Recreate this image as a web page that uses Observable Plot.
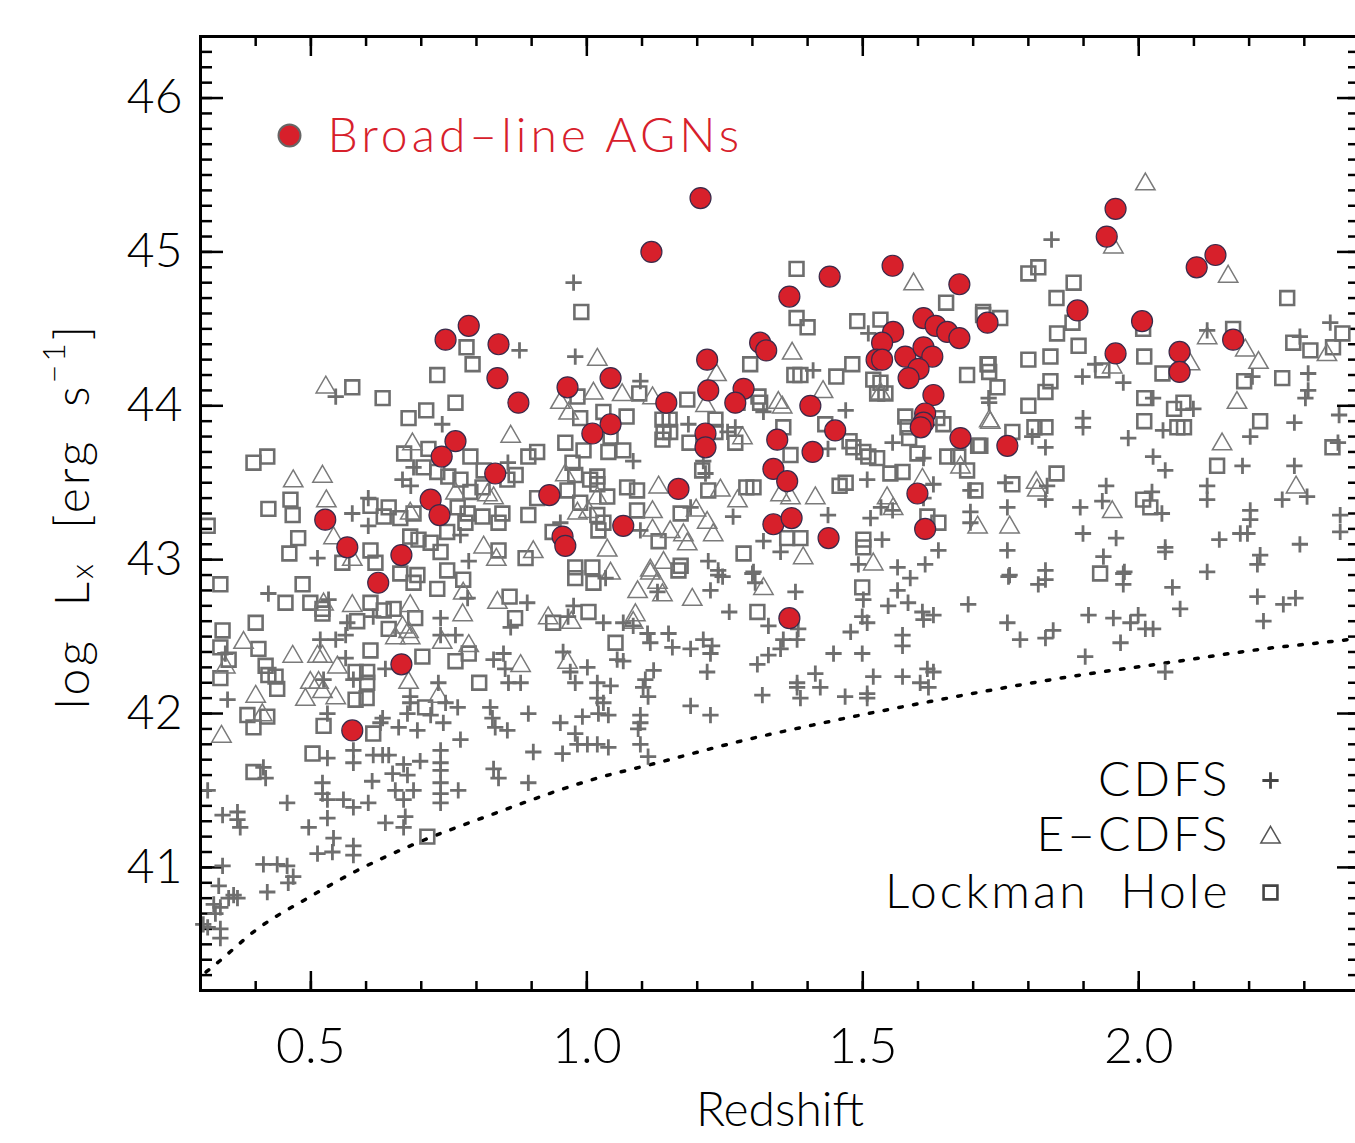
<!DOCTYPE html>
<html>
<head>
<meta charset="utf-8">
<script src="https://cdn.jsdelivr.net/npm/d3@7"></script>
<script src="https://cdn.jsdelivr.net/npm/@observablehq/plot@0.6"></script>
<style>
  html, body { margin: 0; padding: 0; background: #fff; overflow: hidden; }
  #chart svg { display: block; max-width: none !important; }
</style>
</head>
<body>
<div id="chart"></div>
<script>
// ---------------- data (redshift, log Lx) ----------------
const broadLine = [
  [1.206,45.35],[1.117,45.00],[1.958,45.28],[1.942,45.10],[2.105,44.90],[2.139,44.98],
  [1.554,44.91],[1.440,44.84],[1.367,44.71],[1.675,44.79],[1.889,44.62],[1.726,44.54],
  [2.006,44.55],[0.786,44.52],[0.744,44.43],[0.840,44.40],[1.314,44.41],[1.325,44.36],
  [1.218,44.30],[1.958,44.34],[2.074,44.35],[2.074,44.22],[2.171,44.43],[0.838,44.18],
  [1.043,44.18],[0.965,44.12],[1.220,44.10],[1.284,44.11],[1.269,44.02],[0.876,44.02],
  [1.144,44.02],[1.405,44.00],[1.043,43.88],[1.010,43.82],[1.215,43.82],[1.215,43.73],
  [1.450,43.84],[1.345,43.78],[1.409,43.70],[1.677,43.79],[1.762,43.74],[0.762,43.77],
  [0.737,43.67],[0.834,43.56],[1.338,43.59],[1.363,43.51],[1.166,43.46],[0.932,43.42],
  [0.717,43.39],[0.733,43.29],[0.526,43.26],[1.338,43.23],[1.371,43.27],[1.066,43.22],
  [0.956,43.15],[0.961,43.09],[1.438,43.14],[0.566,43.08],[0.664,43.03],[0.622,42.85],
  [1.367,42.62],[0.664,42.32],[0.575,41.89],
  [1.610,44.57],[1.632,44.52],[1.653,44.48],[1.675,44.44],[1.555,44.48],[1.535,44.41],
  [1.525,44.30],[1.535,44.30],[1.577,44.32],[1.610,44.38],[1.626,44.32],[1.601,44.24],
  [1.583,44.18],[1.628,44.07],[1.613,43.95],[1.610,43.89],[1.605,43.86],[1.599,43.43],
  [1.613,43.20]
];

const cdfs = [
  [0.976,44.80],[0.878,44.36],[0.979,44.32],[0.545,44.06],[0.738,43.88],[0.686,43.60],[0.666,43.52],
  [0.681,43.48],[0.857,43.63],[0.575,43.30],[0.604,43.22],[0.604,43.40],[0.512,43.01],[0.771,43.16],
  [0.786,42.99],[0.952,43.24],
  [1.097,44.16],[1.084,43.64],[1.184,43.88],[1.269,43.86],[1.255,43.83],[1.320,43.96],[1.410,44.23],
  [1.510,44.47],[1.469,43.97],[1.554,43.76],[1.437,43.72],[1.508,43.52],[1.610,43.66],[1.628,43.49],
  [1.610,43.40],[1.533,43.34],[1.554,43.32],[1.514,43.27],[1.437,43.29],[1.535,43.13],[1.492,42.97],
  [1.563,42.95],[1.613,42.97],[1.637,43.06],[1.695,43.45],[1.695,43.24],[1.695,43.31],[1.728,44.05],
  [1.265,43.28],[1.320,43.12],[1.351,43.05],[1.220,42.99],[1.238,42.93],[1.302,42.92],[1.188,43.34],
  [1.211,43.64],[1.215,43.56],[1.097,43.19],[1.034,42.88],
  [1.842,45.08],[2.347,44.54],[2.292,44.45],[2.124,44.49],[1.921,44.27],[1.898,44.19],[1.972,44.15],
  [2.026,44.05],[2.099,43.98],[2.307,44.21],[2.307,44.10],[2.302,44.05],[2.206,44.19],[1.729,44.02],
  [1.899,43.92],[1.899,43.86],[1.807,43.80],[1.831,43.73],[2.044,43.84],[1.981,43.79],[2.202,43.80],
  [2.282,43.89],[2.363,43.94],[2.361,43.76],[2.026,43.67],[2.048,43.58],[2.188,43.61],[2.282,43.61],
  [1.758,43.50],[1.834,43.48],[1.941,43.48],[1.831,43.39],[1.762,43.34],[1.894,43.34],[1.934,43.38],
  [2.024,43.44],[2.042,43.30],[2.124,43.48],[2.124,43.39],[2.202,43.32],[2.202,43.26],[2.260,43.39],
  [2.305,43.41],[2.365,43.29],[2.365,43.18],[1.899,43.17],[1.959,43.14],[2.048,43.08],[2.048,43.05],
  [2.146,43.13],[2.184,43.17],[2.197,43.17],[2.220,43.03],[2.215,42.97],[2.292,43.10],[1.762,43.06],
  [1.936,43.02],[1.831,42.93],[1.766,42.90],[1.974,42.92],[2.124,42.92],
  [0.423,42.78],[0.532,42.74],[0.613,42.63],[0.566,42.59],[0.517,42.48],[0.545,42.48],[0.563,42.51],
  [0.563,42.36],[0.735,42.62],[0.735,42.51],[0.762,42.51],[0.784,42.75],[0.892,42.72],[0.976,42.70],
  [0.966,42.63],[0.862,42.56],[0.349,42.09],[0.345,42.39],[0.523,42.22],[0.577,42.22],[0.530,42.00],
  [0.635,42.29],[0.731,42.20],[0.744,42.07],[0.766,42.04],[0.680,42.11],[0.680,42.07],[0.717,41.99],
  [0.675,42.00],[0.626,41.94],[0.659,41.91],[0.693,41.89],[0.740,41.94],[0.735,41.76],[0.735,41.68],
  [0.735,41.63],[0.735,41.55],[0.735,41.48],[0.735,41.42],[0.771,41.83],[0.767,41.50],[0.698,41.69],
  [0.668,41.67],[0.675,41.60],[0.648,41.61],[0.653,41.50],[0.668,41.44],[0.671,41.33],[0.668,41.26],
  [0.635,41.29],[0.686,41.50],[0.604,41.42],[0.577,41.39],[0.559,41.44],[0.530,41.44],[0.521,41.55],
  [0.521,41.48],[0.530,41.32],[0.541,41.19],[0.539,41.10],[0.512,41.09],[0.577,41.14],[0.577,41.08],
  [0.496,41.26],[0.457,41.42],[0.414,41.65],[0.418,41.58],[0.611,41.56],[0.577,41.76],[0.577,41.68],
  [0.530,41.71],[0.630,41.73],[0.641,41.73],[0.613,41.73],[0.630,41.97],[0.831,42.35],[0.849,42.39],
  [0.852,42.29],[0.858,42.20],[0.880,42.20],[0.825,42.04],[0.829,41.97],[0.834,41.91],[0.856,41.89],
  [0.831,41.64],[0.840,41.58],[0.894,42.00],[0.894,41.55],[0.903,41.75],[0.956,41.74],[0.952,41.94],
  [0.957,42.40],[0.970,42.27],[0.979,42.20],[0.992,41.98],[0.979,41.87],[0.983,41.80],[1.001,41.80],
  [1.019,41.80],[1.001,42.30],[1.019,42.20],[1.019,42.10],[1.021,42.00],[0.340,41.34],[0.367,41.36],
  [0.367,41.31],[0.372,41.26],[0.313,41.50],[0.340,41.01],[0.414,41.02],[0.439,41.02],[0.457,41.01],
  [0.468,40.94],[0.459,40.90],[0.421,40.84],[0.360,40.82],[0.351,40.80],[0.367,40.80],[0.333,40.88],
  [0.324,40.76],[0.336,40.74],[0.327,40.70],[0.313,40.61],[0.336,40.60],[0.336,40.54],[0.305,40.63],
  [1.378,42.79],[1.224,42.80],[1.238,42.90],[1.300,42.91],[1.305,42.85],[1.128,42.79],[1.258,42.66],
  [1.329,42.57],[1.383,42.55],[1.381,42.48],[1.356,42.48],[1.351,42.42],[1.329,42.38],[1.309,42.32],
  [1.501,42.74],[1.499,42.63],[1.508,42.59],[1.478,42.53],[1.447,42.39],[1.499,42.39],[1.546,42.70],
  [1.582,42.72],[1.563,42.80],[1.586,42.88],[1.608,42.66],[1.628,42.64],[1.610,42.61],[1.572,42.51],
  [1.572,42.44],[1.691,42.71],[1.381,42.20],[1.381,42.17],[1.387,42.10],[1.414,42.26],[1.423,42.17],
  [1.318,42.12],[1.468,42.11],[1.508,42.13],[1.508,42.10],[1.519,42.24],[1.572,42.24],[1.617,42.29],
  [1.628,42.27],[1.604,42.20],[1.619,42.17],[1.030,42.59],[1.066,42.59],[1.084,42.57],[1.110,42.52],
  [1.115,42.46],[1.148,42.52],[1.155,42.43],[1.188,42.42],[1.211,42.48],[1.227,42.44],[1.224,42.39],
  [1.218,42.27],[1.055,42.35],[1.066,42.34],[1.121,42.28],[1.043,42.18],[1.106,42.22],[1.102,42.17],
  [1.111,42.11],[1.030,42.07],[1.039,41.99],[1.097,41.99],[1.097,41.94],[1.093,41.90],[1.188,42.05],
  [1.224,41.99],[1.039,41.78],[1.097,41.80],[1.111,41.72],[1.246,42.89],
  [1.764,42.89],[1.818,42.84],[1.831,42.87],[1.972,42.91],[1.972,42.84],[2.061,42.82],[2.075,42.68],
  [1.909,42.64],[1.954,42.62],[1.985,42.59],[1.999,42.64],[2.012,42.55],[2.026,42.55],[1.967,42.46],
  [1.762,42.59],[1.785,42.48],[1.831,42.49],[1.845,42.54],[1.903,42.37],[2.048,42.27],[2.215,42.76],
  [2.226,42.60],[2.262,42.71],[2.284,42.75]
];

const ecdfs = [
  [0.527,44.12],[1.019,44.30],[1.012,44.08],[0.967,43.95],[0.862,43.80],[0.684,43.75],[0.468,43.51],
  [0.521,43.54],[0.528,43.38],[0.541,43.14],[0.762,43.43],[0.820,43.42],[0.831,43.40],[0.961,43.55],
  [0.983,43.30],[1.003,43.31],[1.019,43.40],[0.680,43.30],[0.813,43.08],[0.836,43.00],[0.903,43.05],
  [0.575,43.00],[0.952,44.02],
  [1.064,44.07],[1.119,44.05],[1.372,44.34],[1.235,44.20],[1.428,44.09],[1.347,44.02],[1.354,43.99],
  [1.215,44.00],[1.282,43.79],[1.130,43.47],[1.242,43.45],[1.273,43.38],[1.351,43.42],[1.369,43.40],
  [1.414,43.40],[1.198,43.32],[1.119,43.31],[1.218,43.24],[1.119,43.19],[1.151,43.18],[1.175,43.16],
  [1.229,43.16],[1.182,43.10],[1.037,43.06],[1.392,43.01],[1.519,42.97],[1.544,43.40],[1.555,43.33],
  [1.608,43.52],[1.677,43.60],[1.708,43.21],[1.731,43.89],[1.532,44.08],[1.139,42.98],[1.115,42.93],
  [1.592,44.79],
  [2.012,45.44],[1.954,45.03],[2.162,44.84],[2.124,44.44],[2.193,44.36],[2.217,44.28],[2.093,44.27],
  [1.952,44.25],[2.341,44.33],[2.178,44.02],[1.729,43.90],[2.151,43.75],[1.814,43.50],[1.816,43.45],
  [1.952,43.31],[1.766,43.21],[2.285,43.47],
  [0.575,42.70],[0.523,42.71],[0.680,42.70],[0.775,42.64],[0.666,42.56],[0.677,42.53],[0.653,42.49],
  [0.680,42.49],[0.738,42.46],[0.786,42.44],[0.776,42.78],[0.838,42.72],[0.930,42.62],[0.972,42.59],
  [0.378,42.46],[0.467,42.37],[0.512,42.37],[0.521,42.37],[0.548,42.30],[0.499,42.20],[0.514,42.20],
  [0.521,42.14],[0.490,42.09],[0.545,42.10],[0.400,42.11],[0.677,42.20],[0.345,42.30],[0.338,41.85],
  [0.412,41.99],[0.880,42.31],[0.965,42.33],[0.731,42.11],
  [1.092,42.79],[1.191,42.74],[1.320,42.81],[1.137,42.77],[1.128,42.85],[1.088,42.64],[1.084,42.59],
  [1.115,42.91],[1.043,42.91]
];

const lockman = [
  [0.990,44.61],[0.782,44.38],[0.793,44.27],[0.729,44.20],[0.575,44.12],[0.630,44.05],[0.762,44.02],
  [0.709,43.97],[0.677,43.92],[0.396,43.63],[0.421,43.67],[0.669,43.69],[0.713,43.72],[0.789,43.67],
  [0.894,43.67],[0.910,43.70],[0.961,43.76],[0.988,43.92],[0.983,44.06],[0.974,43.63],[0.979,43.55],
  [0.994,43.71],[0.704,43.60],[0.729,43.57],[0.749,43.54],[0.771,43.52],[0.813,43.58],[0.871,43.55],
  [0.856,43.52],[0.811,43.47],[0.789,43.44],[0.965,43.45],[0.910,43.40],[0.988,43.37],[1.006,43.52],
  [0.423,43.33],[0.463,43.39],[0.467,43.29],[0.477,43.14],[0.461,43.04],[0.608,43.35],[0.641,43.34],
  [0.632,43.28],[0.662,43.27],[0.686,43.30],[0.766,43.34],[0.784,43.30],[0.811,43.28],[0.780,43.24],
  [0.847,43.30],[0.840,43.24],[0.894,43.29],[0.938,43.18],[0.680,43.15],[0.695,43.13],[0.747,43.18],
  [0.717,43.11],[0.608,43.06],[0.617,42.98],[0.557,42.98],[0.840,43.06],[0.889,43.01],[0.979,42.95],
  [1.010,42.95],[0.313,43.22],[0.735,43.05],[0.662,42.91],[0.693,42.90],[0.747,42.93],
  [1.380,44.89],[1.380,44.57],[1.400,44.51],[1.490,44.55],[1.532,44.56],[1.651,44.67],[1.718,44.59],
  [1.296,44.27],[1.376,44.20],[1.387,44.20],[1.452,44.19],[1.481,44.27],[1.519,44.17],[1.532,44.15],
  [1.541,44.08],[1.526,44.08],[1.689,44.20],[1.726,44.27],[1.095,44.08],[1.030,43.96],[1.072,43.93],
  [1.043,43.80],[1.039,43.70],[1.066,43.71],[1.139,43.83],[1.137,43.91],[1.150,43.91],[1.151,43.83],
  [1.137,43.78],[1.182,44.04],[1.186,43.76],[1.233,43.91],[1.233,43.83],[1.311,44.06],[1.314,44.02],
  [1.273,44.02],[1.269,43.76],[1.356,43.86],[1.369,43.68],[1.432,43.88],[1.476,43.77],[1.483,43.73],
  [1.501,43.70],[1.510,43.67],[1.526,43.66],[1.550,43.56],[1.572,43.57],[1.577,43.93],[1.581,43.86],
  [1.584,43.79],[1.599,43.69],[1.646,43.88],[1.635,43.92],[1.653,43.67],[1.673,43.67],[1.709,43.74],
  [1.689,43.58],[1.704,43.45],[1.637,43.24],[1.617,43.28],[1.458,43.48],[1.469,43.50],[1.289,43.47],
  [1.302,43.47],[1.220,43.45],[1.209,43.58],[1.019,43.54],[1.019,43.49],[1.037,43.41],[1.073,43.47],
  [1.091,43.45],[1.019,43.29],[1.030,43.24],[1.021,43.19],[1.091,43.32],[1.170,43.30],[1.130,43.12],
  [1.284,43.04],[1.170,42.96],[1.363,43.14],[1.387,43.14],[1.501,43.13],[1.501,43.08],
  [1.800,44.86],[1.818,44.90],[1.882,44.80],[1.851,44.70],[1.880,44.54],[1.852,44.47],[1.891,44.39],
  [1.800,44.30],[1.840,44.32],[2.008,44.50],[2.010,44.32],[2.043,44.21],[1.934,44.23],[1.728,44.27],
  [1.729,44.22],[1.744,44.12],[1.749,44.57],[1.718,44.61],[1.840,44.16],[1.831,44.09],[1.800,44.00],
  [2.010,44.05],[2.064,43.98],[2.081,44.02],[2.070,43.86],[2.082,43.86],[2.010,43.90],[2.171,44.50],
  [2.269,44.70],[2.280,44.41],[2.311,44.36],[2.352,44.38],[2.369,44.47],[2.191,44.16],[2.260,44.18],
  [2.220,43.90],[1.771,43.83],[1.811,43.86],[1.831,43.86],[1.713,43.74],[2.351,43.73],[1.851,43.56],
  [1.771,43.49],[2.008,43.39],[2.021,43.34],[2.142,43.61],[1.930,42.91],
  [0.336,42.84],[0.485,42.84],[0.454,42.72],[0.499,42.72],[0.521,42.68],[0.521,42.65],[0.608,42.72],
  [0.632,42.67],[0.650,42.68],[0.584,42.60],[0.641,42.55],[0.689,42.62],[0.400,42.59],[0.340,42.54],
  [0.336,42.43],[0.405,42.42],[0.351,42.35],[0.418,42.31],[0.423,42.25],[0.436,42.24],[0.439,42.16],
  [0.336,42.23],[0.608,42.41],[0.581,42.27],[0.602,42.27],[0.602,42.20],[0.581,42.09],[0.601,42.10],
  [0.702,42.37],[0.762,42.34],[0.786,42.39],[0.805,42.20],[0.385,41.99],[0.421,41.98],[0.396,41.91],
  [0.523,41.92],[0.613,41.87],[0.503,41.74],[0.396,41.62],[0.707,42.04],[0.711,41.20],[0.870,42.62],
  [0.860,42.76],[0.939,42.59],[1.003,42.66],[0.729,42.81],[0.686,42.85],[0.776,42.87],[1.012,42.85],
  [0.979,42.88],[1.499,42.82],[1.309,42.66],[1.052,42.46],[1.166,42.93]
];

// flux-limit curve (dotted)
const limitCurve = [
  [0.31,40.32],[0.324,40.36],[0.403,40.60],[0.494,40.80],[0.584,40.98],[0.680,41.14],[0.825,41.34],
  [1.019,41.58],[1.128,41.68],[1.278,41.82],[1.429,41.94],[1.610,42.07],[1.894,42.25],[2.052,42.33],
  [2.226,42.42],[2.378,42.48],[2.40,42.49]
];

const xMajor = [0.5, 1.0, 1.5, 2.0];
const xMinor = d3.range(4, 24).map(i => i / 10);
const yMajor = [41, 42, 43, 44, 45, 46];
const yMinor = d3.range(403, 464).map(i => i / 10);
const legendTop = "Broad\u2013line AGNs";
const legendBottom = ["CDFS", "E\u2013CDFS", "Lockman\u00a0\u00a0Hole"];

// ---------------- styles ----------------
const FONT = "Lato, 'Open Sans', sans-serif";
const GRAY = "#6e6e6e";
const RED = "#d7202b";
const PLUS_R = 5.3, SQ_R = 7.8, TRI_R = 7.2;

const legendRows = [-195, -140, -83];
const legendSymbols = [
  {dy: -210, symbol: "plus", r: PLUS_R, stroke: "#444", strokeWidth: 2.8, fill: "none"},
  {dy: -153, symbol: "triangle", r: TRI_R, stroke: "#555", strokeWidth: 1.5, fill: "none"},
  {dy: -98, symbol: "square", r: SQ_R, stroke: "#444", strokeWidth: 2.6, fill: "none"}
];

const plot = Plot.plot({
  width: 1360,
  height: 1143,
  marginLeft: 200,
  marginRight: 1,
  marginTop: 36,
  marginBottom: 153,
  style: {fontFamily: FONT, background: "white", overflow: "visible"},
  x: {domain: [0.3, 2.4], label: null},
  y: {domain: [40.2, 46.4], label: null},
  marks: [
    // axes ticks (inward)
    Plot.axisX({anchor: "bottom", ticks: xMinor, tickSize: -9, strokeWidth: 2.5, tickFormat: () => "", label: null}),
    Plot.axisX({anchor: "bottom", ticks: xMajor, tickSize: -19, strokeWidth: 2.5, tickFormat: () => "", label: null}),
    Plot.axisX({anchor: "top", ticks: xMinor, tickSize: -9, strokeWidth: 2.5, tickFormat: () => "", label: null}),
    Plot.axisX({anchor: "top", ticks: xMajor, tickSize: -19, strokeWidth: 2.5, tickFormat: () => "", label: null}),
    Plot.axisY({anchor: "left", ticks: yMinor, tickSize: -12, strokeWidth: 2.5, tickFormat: () => "", label: null}),
    Plot.axisY({anchor: "left", ticks: yMajor, tickSize: -23, strokeWidth: 2.5, tickFormat: () => "", label: null}),
    Plot.axisY({anchor: "right", ticks: yMinor, tickSize: -12, strokeWidth: 2.5, tickFormat: () => "", label: null}),
    Plot.axisY({anchor: "right", ticks: yMajor, tickSize: -23, strokeWidth: 2.5, tickFormat: () => "", label: null}),
    // tick labels
    Plot.axisX({anchor: "bottom", ticks: xMajor, tickSize: 0, tickPadding: 37, tickFormat: d3.format(".1f"),
      fontSize: 50, fontWeight: 300, fill: "#000", label: null}),
    Plot.axisY({anchor: "left", ticks: yMajor, tickSize: 0, tickPadding: 18, tickFormat: d3.format("d"),
      fontSize: 48, fontWeight: 300, fill: "#000", label: null}),
    // x-axis title
    Plot.text(["Redshift"], {frameAnchor: "bottom", text: d => d, dy: 135, lineAnchor: "bottom",
      fontSize: 48, fontWeight: 300, fill: "#000"}),
    // flux limit
    Plot.line(limitCurve, {x: d => d[0], y: d => d[1], curve: "monotone-x", stroke: "#000",
      strokeWidth: 3.5, strokeDasharray: "3.5 11.5"}),
    // sources
    Plot.dot(lockman, {x: d => d[0], y: d => d[1], symbol: "square", r: SQ_R, stroke: GRAY, strokeWidth: 2.6, fill: "none"}),
    Plot.dot(ecdfs, {x: d => d[0], y: d => d[1], symbol: "triangle", r: TRI_R, stroke: "#7a7a7a", strokeWidth: 1.5, fill: "none"}),
    Plot.dot(cdfs, {x: d => d[0], y: d => d[1], symbol: "plus", r: PLUS_R, stroke: GRAY, strokeWidth: 2.8}),
    Plot.dot(broadLine, {x: d => d[0], y: d => d[1], r: 10.5, fill: RED, stroke: "#3a2a4a", strokeWidth: 1.2}),
    // top-left legend
    Plot.dot([0], {frameAnchor: "top-left", dx: 89, dy: 99, r: 11, fill: RED, stroke: "#666", strokeWidth: 2}),
    Plot.text([legendTop], {frameAnchor: "top-left", text: d => d, dx: 127, dy: 115, lineAnchor: "bottom",
      textAnchor: "start", fontSize: 48, fontWeight: 300, fill: RED}),
    // bottom-right legend
    ...legendBottom.map((label, i) => Plot.text([label], {frameAnchor: "bottom-right", text: d => d,
      dx: -129, dy: legendRows[i], lineAnchor: "bottom", textAnchor: "end", fontSize: 48, fontWeight: 300, fill: "#000"})),
    ...legendSymbols.map(s => Plot.dot([0], {frameAnchor: "bottom-right", dx: -89, ...s})),
    // frame
    Plot.frame({stroke: "#000", strokeWidth: 3})
  ]
});

const svg = d3.select(plot);
svg.selectAll("text").filter(function() { return legendBottom.includes(this.textContent); })
  .style("letter-spacing", "3px");
svg.selectAll("text").filter(function() { return this.textContent === legendTop; })
  .style("letter-spacing", "4px");

// y-axis title with subscript / superscript
const yl = svg.append("text")
  .attr("transform", "translate(70,516) rotate(-90)")
  .attr("text-anchor", "middle")
  .attr("dominant-baseline", "central")
  .attr("font-family", FONT)
  .attr("font-weight", 300)
  .attr("font-size", 48)
  .attr("fill", "#000")
  .style("letter-spacing", "3px")
  .style("white-space", "pre");
yl.append("tspan").text("log  L");
yl.append("tspan").attr("font-size", 32).attr("dy", 10).text("x");
yl.append("tspan").attr("dy", -10).text("  [erg  s");
yl.append("tspan").attr("font-size", 32).attr("dy", -18).text("\u22121");
yl.append("tspan").attr("dy", 18).text("]");

document.getElementById("chart").appendChild(plot);
</script>
</body>
</html>
